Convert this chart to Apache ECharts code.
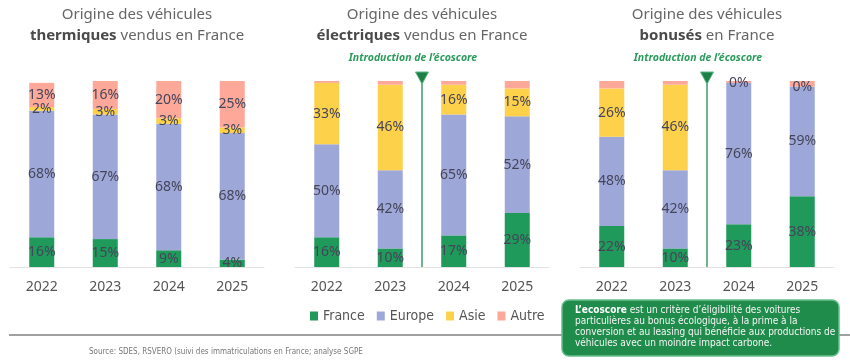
<!DOCTYPE html>
<html><head><meta charset="utf-8">
<script src="https://cdn.jsdelivr.net/npm/echarts@6/dist/echarts.min.js"></script>
<style>html,body{margin:0;padding:0;background:#fff}#c{width:850px;height:364px}</style>
</head><body><div id="c"></div>
<script>
const years = ['2022', '2023', '2024', '2025'];
const seriesNames = ['France', 'Europe', 'Asie', 'Autre'];
const thermFrance = [16, 15, 9, 4];
const thermEurope = [68, 67, 68, 68];
const thermAsie = [2, 3, 3, 3];
const thermAutre = [13, 16, 20, 25];
const elecFrance = [16, 10, 17, 29];
const elecEurope = [50, 42, 65, 52];
const elecAsie = [33, 46, 16, 15];
const elecAutre = [1, 2, 2, 4];
const bonusFrance = [22, 10, 23, 38];
const bonusEurope = [48, 42, 76, 59];
const bonusAsie = [26, 46, 0, 0];
const bonusAutre = [4, 2, 1, 3];
const panelTitles = [['Origine des véhicules', 'thermiques', ' vendus en France'],
                     ['Origine des véhicules', 'électriques', ' vendus en France'],
                     ['Origine des véhicules', 'bonusés', ' en France']];
const annotationText = 'Introduction de l\u2019écoscore';
const sourceText = 'Source: SDES, RSVERO (suivi des immatriculations en France; analyse SGPE';
const boxBold = 'L\u2019ecoscore';
const boxLines = [' est un critère d\u2019éligibilité des voitures',
  'particulières au bonus écologique, à la prime à la',
  'conversion et au leasing qui bénéficie aux productions de',
  'véhicules avec un moindre impact carbone.'];

const colors = ['#1f9a5a', '#9ea8d8', '#fdd24a', '#fda898'];
const panels = [
  [thermFrance, thermEurope, thermAsie, thermAutre],
  [elecFrance, elecEurope, elecAsie, elecAutre],
  [bonusFrance, bonusEurope, bonusAsie, bonusAutre]
];
const gridLefts = [10, 295, 580];
const FONT = 'Noto Sans';
const NARROW = '"DejaVu Sans Condensed", "Liberation Sans Narrow", Roboto';

const chart = echarts.init(document.getElementById('c'));
const grids = [], xAxes = [], yAxes = [], series = [];
panels.forEach((p, gi) => {
  grids.push({left: gridLefts[gi], width: 254, top: 81, height: 186});
  xAxes.push({type: 'category', gridIndex: gi, data: years,
    axisLine: {lineStyle: {color: '#e2e2e2', width: 1}}, axisTick: {show: false},
    axisLabel: {color: '#555', fontSize: 14, fontFamily: FONT, margin: 13}});
  yAxes.push({type: 'value', gridIndex: gi, min: 0, max: 100, show: false, splitLine: {show: false}});
  p.forEach((arr, si) => {
    series.push({name: seriesNames[si], type: 'bar', stack: 'p' + gi, xAxisIndex: gi, yAxisIndex: gi,
      data: arr, barWidth: 25, itemStyle: {color: colors[si]},
      label: {show: si < 3 || gi === 0, position: 'inside', formatter: '{c}%', color: '#45455a',
        fontSize: 14, fontFamily: FONT}});
  });
});

chart.setOption({
  animation: false,
  color: colors,
  grid: grids, xAxis: xAxes, yAxis: yAxes, series: series,
  legend: {data: seriesNames, left: 310, top: 309, padding: 0, itemWidth: 8, itemHeight: 9, itemGap: 12,
    icon: 'rect', textStyle: {color: '#555', fontSize: 14, fontFamily: NARROW}}
});

const graphics = [];
const titleCenters = [137, 422, 707];
panelTitles.forEach((t, i) => {
  graphics.push({type: 'text', x: titleCenters[i], y: 15, style: {text: t[0], fill: '#666',
    font: '15px "' + FONT + '"', textAlign: 'center', textVerticalAlign: 'middle'}});
  graphics.push({type: 'text', x: titleCenters[i], y: 36, style: {
    text: '{b|' + t[1] + '}{n|' + t[2] + '}', textAlign: 'center', textVerticalAlign: 'middle',
    rich: {b: {fontSize: 15, fontWeight: 'bold', fill: '#4a4a4a', fontFamily: FONT},
           n: {fontSize: 15, fill: '#666', fontFamily: FONT}}}});
});
[1, 2].forEach(gi => {
  const a = chart.convertToPixel({xAxisIndex: gi}, years[1]);
  const b = chart.convertToPixel({xAxisIndex: gi}, years[2]);
  const x = Math.round((a + b) / 2);
  const y0 = chart.convertToPixel({yAxisIndex: gi}, 0);
  graphics.push({type: 'line', shape: {x1: x, y1: 74, x2: x, y2: y0}, style: {stroke: '#3a9e66', lineWidth: 1.5}});
  graphics.push({type: 'polygon', shape: {points: [[x - 6.5, 72], [x + 6.5, 72], [x, 84]]},
    style: {fill: '#1c7f46', stroke: '#5bb584', lineWidth: 1}});
  graphics.push({type: 'text', x: x - 9, y: 58, style: {text: annotationText, fill: '#2b9c5c',
    font: 'italic bold 10.5px "' + FONT + '"', textAlign: 'center', textVerticalAlign: 'middle'}});
});
graphics.push({type: 'line', shape: {x1: 9, y1: 335, x2: 850, y2: 335}, style: {stroke: '#808080', lineWidth: 1.5}});
graphics.push({type: 'text', x: 89, y: 352, style: {text: sourceText, fill: '#777',
  font: '8px ' + NARROW, textVerticalAlign: 'middle'}});
graphics.push({type: 'rect', shape: {x: 562, y: 300, width: 277, height: 56, r: 7},
  style: {fill: '#1f8c4c', stroke: '#6abf8c', lineWidth: 1.5}});
graphics.push({type: 'text', x: 575, y: 305, style: {
  text: '{b|' + boxBold + '}{n|' + boxLines[0] + '}\n{n|' + boxLines[1] + '}\n{n|' + boxLines[2] + '}\n{n|' + boxLines[3] + '}',
  rich: {b: {fontSize: 10, fontWeight: 'bold', fill: '#fff', fontFamily: NARROW, lineHeight: 11},
         n: {fontSize: 10, fill: '#f4f4f4', fontFamily: NARROW, lineHeight: 11}}}});
chart.setOption({graphic: graphics});
</script></body></html>
